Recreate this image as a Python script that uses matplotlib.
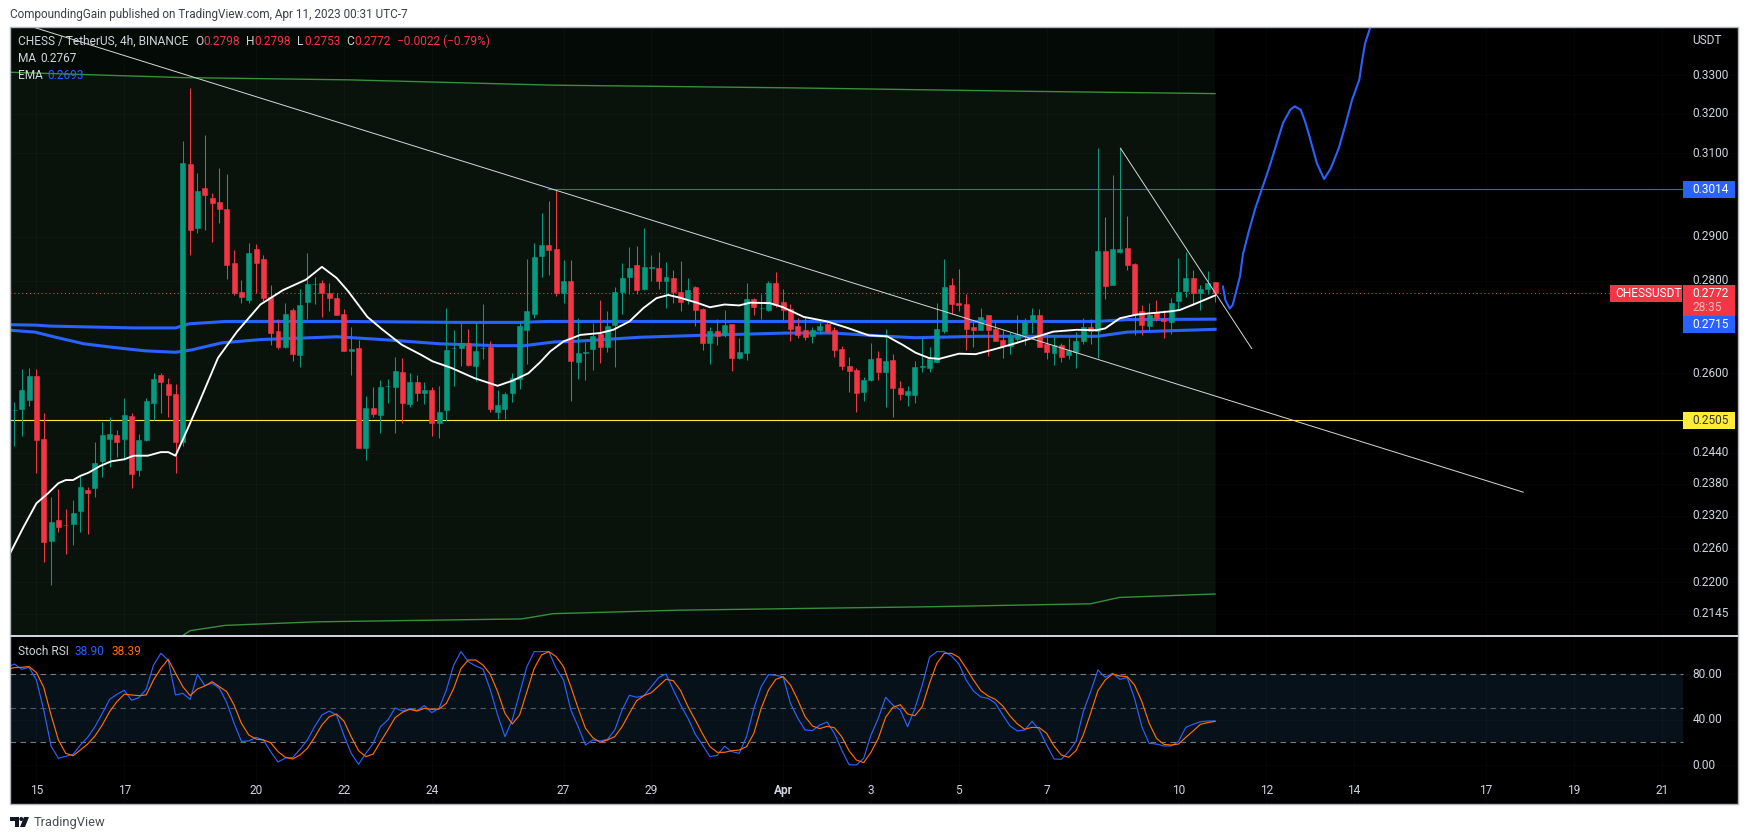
import matplotlib
matplotlib.use("Agg")
import matplotlib.pyplot as plt
from matplotlib.patches import Rectangle, Ellipse, Polygon
from matplotlib.transforms import blended_transform_factory

plt.rcParams['font.family'] = ['Roboto', 'DejaVu Sans']

# candles, 4h bars, bar 0 is the "15" tick
bar_start = -3
opens = [.2524,.2527,.2544,.2595,.2467,.2273,.2312,.2303,.2305,.2328,.2368,.2372,.2424,.2467,.2475,.2467,.2513,.2407,.2465,.2539,.2597,.2577,.2558,.2461,.3075,.2921,.3016,.2992,.2982,.2965,.2840,.2775,.2757,.2872,.2849,.2764,.2690,.2656,.2736,.2639,.2753,.2792,.2795,.2773,.2762,.2727,.2647,.2653,.2449,.2529,.2515,.2573,.2572,.2603,.2537,.2581,.2560,.2566,.2499,.2525,.2652,.2653,.2663,.2616,.2652,.2656,.2521,.2527,.2560,.2589,.2692,.2727,.2855,.2880,.2872,.2772,.2800,.2624,.2643,.2651,.2684,.2656,.2703,.2775,.2809,.2836,.2782,.2829,.2829,.2800,.2805,.2775,.2760,.2786,.2738,.2664,.2690,.2681,.2705,.2632,.2643,.2760,.2739,.2736,.2795,.2753,.2738,.2701,.2692,.2679,.2692,.2705,.2692,.2651,.2616,.2606,.2562,.2585,.2632,.2602,.2628,.2570,.2556,.2556,.2614,.2610,.2624,.2690,.2791,.2751,.2749,.2697,.2692,.2725,.2694,.2671,.2658,.2673,.2684,.2710,.2723,.2662,.2643,.2660,.2638,.2645,.2669,.2697,.2690,.2868,.2790,.2865,.2875,.2838,.2732,.2701,.2729,.2716,.2708,.2755,.2777,.2805,.2772,.2782,.2798]
highs = [.2540,.2608,.2610,.2608,.2518,.2354,.2370,.2333,.2349,.2395,.2374,.2461,.2501,.2511,.2485,.2549,.2518,.2477,.2549,.2601,.2601,.2591,.2577,.3131,.3266,.3052,.3146,.3004,.3065,.3050,.2870,.2802,.2886,.2884,.2859,.2791,.2716,.2751,.2740,.2782,.2863,.2808,.2802,.2795,.2772,.2738,.2697,.2671,.2553,.2572,.2587,.2589,.2634,.2632,.2601,.2597,.2581,.2572,.2574,.2740,.2692,.2708,.2694,.2708,.2749,.2667,.2566,.2562,.2601,.2708,.2849,.2886,.2956,.2985,.3011,.2847,.2847,.2717,.2665,.2706,.2757,.2732,.2786,.2840,.2877,.2879,.2921,.2859,.2865,.2843,.2823,.2845,.2805,.2788,.2740,.2697,.2716,.2736,.2705,.2675,.2795,.2762,.2770,.2800,.2820,.2782,.2749,.2718,.2720,.2699,.2708,.2710,.2697,.2658,.2634,.2610,.2593,.2664,.2647,.2694,.2641,.2583,.2574,.2626,.2677,.2655,.2751,.2849,.2805,.2827,.2770,.2710,.2740,.2725,.2708,.2692,.2688,.2725,.2718,.2740,.2738,.2688,.2681,.2664,.2675,.2688,.2718,.2716,.3114,.2947,.3047,.3114,.2949,.2840,.2745,.2751,.2757,.2736,.2762,.2851,.2865,.2825,.2791,.2822,.2798]
lows = [.2452,.2472,.2532,.2400,.2235,.2194,.2290,.2250,.2266,.2289,.2287,.2355,.2393,.2412,.2432,.2426,.2372,.2395,.2463,.2505,.2519,.2511,.2401,.2452,.2859,.2909,.2916,.2889,.2933,.2804,.2768,.2751,.2751,.2772,.2755,.2660,.2651,.2654,.2626,.2612,.2716,.2749,.2720,.2732,.2725,.2647,.2597,.2449,.2426,.2511,.2479,.2539,.2479,.2499,.2531,.2543,.2537,.2473,.2469,.2503,.2574,.2616,.2616,.2583,.2630,.2521,.2507,.2507,.2541,.2568,.2620,.2718,.2808,.2813,.2766,.2751,.2543,.2589,.2587,.2606,.2622,.2645,.2612,.2727,.2770,.2770,.2780,.2800,.2782,.2740,.2751,.2732,.2749,.2701,.2649,.2620,.2660,.2677,.2604,.2630,.2628,.2723,.2716,.2732,.2742,.2714,.2667,.2675,.2671,.2664,.2683,.2686,.2634,.2606,.2562,.2521,.2543,.2583,.2587,.2531,.2511,.2545,.2533,.2539,.2602,.2602,.2624,.2686,.2727,.2732,.2649,.2656,.2692,.2636,.2669,.2632,.2641,.2664,.2660,.2686,.2656,.2630,.2618,.2624,.2630,.2610,.2662,.2662,.2632,.2760,.2790,.2863,.2823,.2681,.2681,.2690,.2710,.2675,.2683,.2734,.2764,.2745,.2736,.2770,.2753]
closes = [.2525,.2566,.2595,.2465,.2272,.2309,.2299,.2302,.2324,.2374,.2362,.2420,.2475,.2477,.2461,.2515,.2399,.2465,.2543,.2589,.2581,.2556,.2461,.3077,.2916,.3009,.2999,.2980,.2965,.2836,.2773,.2764,.2863,.2840,.2762,.2685,.2656,.2727,.2641,.2745,.2793,.2793,.2773,.2762,.2725,.2647,.2651,.2449,.2529,.2517,.2572,.2574,.2605,.2539,.2581,.2560,.2566,.2499,.2521,.2649,.2654,.2663,.2618,.2647,.2654,.2527,.2535,.2558,.2591,.2701,.2732,.2853,.2880,.2870,.2772,.2800,.2626,.2643,.2645,.2679,.2656,.2701,.2775,.2807,.2829,.2780,.2831,.2831,.2800,.2809,.2775,.2753,.2780,.2736,.2664,.2690,.2679,.2703,.2632,.2645,.2760,.2742,.2740,.2795,.2745,.2736,.2694,.2681,.2677,.2692,.2701,.2688,.2649,.2616,.2604,.2560,.2587,.2630,.2602,.2626,.2570,.2558,.2564,.2612,.2615,.2630,.2694,.2786,.2749,.2747,.2694,.2692,.2720,.2692,.2669,.2658,.2679,.2684,.2708,.2723,.2656,.2645,.2660,.2634,.2649,.2669,.2699,.2690,.2868,.2788,.2872,.2872,.2836,.2725,.2703,.2723,.2718,.2712,.2751,.2775,.2805,.2772,.2782,.2795,.2772]

# MA (white)
ma_x = [-3.6,-1.8,0,1.6,3,4,5,6,7.1,8.7,10.2,12,13.3,15.2,17,18,19,20.6,22.2,24.8,27.4,30.6,33.7,36.8,39,41,42.6,45.2,47.3,49.9,52.5,54.1,56.7,59.8,63,65.1,67.2,68.8,70.2,72,74.3,77,78.8,81,82.9,84.7,86.3,87.9,90.2,92,94,96,97.5,100.2,102,104.8,108,110.8,113.7,116.2,118.3,120.1,121.9,123.3,126,128.3,131,133.5,136.2,138.9,142.1,144.8,146,148,150.3,153,154.9,156.2,158.5,161]
ma_y = [.2251,.2298,.2343,.2362,.2381,.2387,.2387,.2395,.2401,.2414,.2423,.2427,.2434,.2434,.2441,.2441,.2434,.2485,.2539,.2632,.2688,.2747,.2779,.2802,.2831,.2806,.2776,.2720,.2692,.2660,.2639,.2625,.2611,.2590,.2574,.2585,.2600,.2623,.2646,.2667,.2681,.2685,.2692,.2710,.2739,.2761,.2768,.2762,.2751,.2741,.2747,.2745,.2751,.2750,.2741,.2720,.2710,.2696,.2680,.2678,.2660,.2643,.2632,.2630,.2641,.2640,.2651,.2662,.2675,.2688,.2692,.2691,.2695,.2717,.2725,.2729,.2732,.2735,.2750,.2767]

# the two blue EMAs
ema1_x = [-3.6,0,1.8,7.6,13.3,19,20.9,25.9,42,57.7,66,69.8,90,125,144.9,149,161]
ema1_y = [.2703,.2702,.2700,.2698,.2696,.2696,.2705,.2710,.2710,.2708,.2708,.2710,.2710,.2710,.2710,.2714,.2715]
ema2_x = [-3.6,-0.2,2.9,6.5,10.7,14.9,19,21.2,25.3,30.6,41,47.3,55.1,63,66.6,70.8,73.3,82.5,90.6,102.5,108.8,116.2,120,128.9,144.9,149,161]
ema2_y = [.2691,.2687,.2675,.2662,.2654,.2647,.2644,.2649,.2664,.2671,.2677,.2671,.2662,.2658,.2658,.2666,.2667,.2676,.2680,.2685,.2685,.2678,.2675,.2678,.2678,.2687,.2693]

# green channel
upper_x = [-3.6,19.9,42.6,70.6,102.9,135.5,161]
upper_y = [.3308,.3294,.3288,.3274,.3267,.3258,.3252]
lower_x = [19.9,21,25.8,38.2,66.3,70.6,87.9,122.5,144,147.9,161]
lower_y = [.2107,.2116,.2125,.2131,.2136,.2145,.2151,.2157,.2162,.2173,.2179]

# hand drawn projection
proj_x = [162.07,162.4,163,163.4,164.4,164.8,165.6,166.5,167.4,168.3,169.4,170.3,171.3,171.9,172.7,173.3,173.9,174.9,175.9,176.8,177.9,178.8,179.7,180.7,181.1,181.5,182.2]
proj_y = [.2787,.2757,.2738,.2746,.2809,.2859,.2912,.2967,.3013,.3060,.3124,.3177,.3211,.3219,.3210,.3180,.3142,.3076,.3037,.3063,.3113,.3171,.3235,.3288,.3341,.3386,.3429]

# trend lines
long_x = [-0.33,203.1]
long_y = [.3429,.2364]
short_x = [148.08,166]
short_y = [.3113,.2652]

# stoch rsi, first value is bar -4
stoch_k = [86.2,89.1,84.4,86.2,75.0,48.5,16.8,5.9,7.6,9.4,17.6,24.4,33.8,45.6,57.9,62.4,65.9,57.1,59.4,66.8,88.2,98.5,92.6,61.8,63.2,57.9,80.0,70.0,72.1,67.6,55.0,36.8,20.9,21.2,24.4,22.1,11.8,2.6,6.2,6.5,13.8,22.1,33.8,44.1,47.6,44.1,26.2,10.3,0.6,10.3,19.1,33.8,39.7,50.3,47.6,49.7,48.2,52.4,46.2,50.0,66.2,88.2,100,91.2,87.4,84.7,66.2,44.1,25.0,39.7,63.2,86.8,100,100,100,85.3,75.0,48.5,33.8,17.6,22.1,21.2,22.6,30.9,48.5,61.5,59.7,61.2,69.1,77.1,80.3,66.2,52.9,41.2,27.1,17.6,7.4,8.5,16.5,11.8,10.3,25.0,50.0,69.1,79.7,79.1,77.9,54.4,41.2,30.9,30.3,35.3,37.9,27.9,13.2,0.3,0.0,5.9,26.5,41.2,59.7,52.9,48.5,33.8,50.0,70.6,95.0,100,100,96.2,89.1,75.0,65.3,60.0,58.8,54.4,44.1,34.4,30.0,30.9,38.5,30.9,17.6,5.3,5.0,11.8,20.6,47.1,64.7,83.8,77.4,80.9,75.6,77.1,58.8,33.8,19.1,18.5,16.8,16.8,20.6,33.2,35.9,38.2,38.8,38.9]
stoch_d = [84.4,85.9,86.2,86.8,81.5,68.5,44.1,22.1,10.3,8.2,13.2,18.5,25.6,35.3,47.1,55.9,62.4,61.8,61.2,61.8,75.0,85.3,93.2,80.9,69.1,61.2,67.1,69.7,73.5,69.1,64.7,52.9,36.8,26.5,22.9,22.1,19.7,11.8,6.8,5.3,8.8,14.7,24.4,35.3,42.6,45.0,38.8,25.0,12.6,7.4,9.7,20.6,30.9,41.8,46.5,49.1,47.6,50.0,49.1,49.4,54.4,67.6,85.3,92.6,92.6,88.2,80.0,64.7,45.6,36.2,44.1,64.7,85.3,97.1,100,95.6,86.8,69.1,50.0,32.4,24.1,20.0,22.1,25.0,33.8,45.6,56.8,61.2,63.8,69.7,75.6,74.4,65.6,51.5,39.7,27.4,16.2,11.2,11.2,12.6,13.2,16.2,27.9,50.0,66.2,75.6,77.9,70.6,57.4,42.6,34.4,32.1,34.1,32.9,25.0,12.6,4.4,2.1,11.2,23.5,42.1,50.9,53.2,45.0,43.5,51.5,72.1,89.7,98.5,98.5,95.0,85.3,75.0,65.6,60.9,57.9,52.1,43.2,36.2,31.5,33.2,32.9,27.9,16.8,8.8,6.8,12.6,26.5,45.6,65.6,75.0,80.3,78.5,77.9,70.6,55.9,36.8,23.5,18.2,17.6,18.5,24.4,30.0,35.9,37.4,38.5]

price_ticks = [.33,.32,.31,.29,.28,.26,.244,.238,.232,.226,.22,.2145]
price_labels = ["0.3300","0.3200","0.3100","0.2900","0.2800","0.2600","0.2440","0.2380","0.2320","0.2260","0.2200","0.2145"]
stoch_ticks = [80,40,0]
stoch_labels = ["80.00","40.00","0.00"]
day_pos = [0,12,30,42,54,72,84,102,114,126,138,156,168,180,198,210,222]
day_labels = ["15","17","20","22","24","27","29","Apr","3","5","7","10","12","14","17","19","21"]

UP, DOWN = "#089981", "#f23645"
BLUE, ORANGE = "#2962ff", "#ff6d00"
AXIS = "#d1d4dc"
W, H = 1749, 840
FS = 8.6


def fx(x):
    return x / W


def fy(y):
    return 1 - y / H


fig = plt.figure(figsize=(W / 100, H / 100), dpi=100, facecolor="white")
ax = fig.add_axes([fx(10.5), fy(636), 1728 / W, 609 / H])
ax2 = fig.add_axes([fx(10.5), fy(804), 1728 / W, 168 / H])

x_left, x_right = -3.54, 232.5
x_box = 161.0
x_scale = 224.9
x_name = 215

# ---- price pane
ax.set_facecolor("black")
ax.set_yscale("log")
ax.set_xlim(x_left, x_right)
ax.set_ylim(.2107, .3430)
ax.axvspan(x_left, x_box, color="#040b06", lw=0, zorder=0)
low_fill_x = [x_left] + lower_x
low_fill_y = [.2107] + lower_y
ax.fill_between(upper_x, upper_y, .2107, color="#09130c", lw=0, zorder=0.5)
ax.fill_between(low_fill_x, low_fill_y, .2107, color="#050c07", lw=0, zorder=0.6)

for p in price_ticks:
    ax.axhline(p, color="white", alpha=0.025, lw=1, zorder=0.8)
for d in day_pos:
    ax.axvline(d, color="white", alpha=0.025, lw=1, zorder=0.8)

ax.plot(upper_x, upper_y, color="#388e3c", lw=1.0, zorder=1)
ax.plot(lower_x, lower_y, color="#388e3c", lw=1.0, zorder=1)
ax.plot([69.9, x_scale], [.3014, .3014], color=BLUE, lw=0.8, zorder=1)
ax.plot([x_left, x_scale], [.2505, .2505], color="#ffeb3b", lw=0.8, zorder=1)
ax.plot([x_left, x_name], [.2772, .2772], color=DOWN, lw=0.8, ls=(0, (1, 2.5)), zorder=1)
ax.plot(ema1_x, ema1_y, color=BLUE, lw=2.2, zorder=2)
ax.plot(ema2_x, ema2_y, color=BLUE, lw=2.2, zorder=2)

bars = range(bar_start, bar_start + len(opens))
for i, o, h, l, c in zip(bars, opens, highs, lows, closes):
    col = UP if c >= o else DOWN
    ax.vlines(i, l, h, color=col, lw=0.75, zorder=3)
    ax.bar(i, abs(c - o), bottom=min(o, c), width=0.68, color=col, edgecolor=col, lw=0.4, zorder=3.1)

ax.plot(ma_x, ma_y, color="white", lw=1.35, zorder=4)
ax.plot(long_x, long_y, color="#d8d8d8", lw=0.7, zorder=4)
ax.plot(short_x, short_y, color="#d8d8d8", lw=0.7, zorder=4)
ax.plot(proj_x, proj_y, color=BLUE, lw=1.5, zorder=4)
ax.set_xticks([])
ax.set_yticks([])
ax.minorticks_off()

# ---- stoch pane
ax2.set_facecolor("black")
ax2.set_xlim(x_left, x_right)
ax2.set_ylim(-34.4, 113.8)
for p in stoch_ticks:
    ax2.axhline(p, color="white", alpha=0.025, lw=1, zorder=0.8)
for d in day_pos:
    ax2.axvline(d, color="white", alpha=0.025, lw=1, zorder=0.8)
ax2.fill_between([x_left, x_scale], 20, 80, color="#06111a", lw=0, zorder=0.5)
ax2.plot([x_left, x_scale], [80, 80], color="#787b86", lw=0.8, ls=(0, (5, 4)), zorder=1)
ax2.plot([x_left, x_scale], [50, 50], color="#55585f", lw=0.8, ls=(0, (5, 4)), zorder=1)
ax2.plot([x_left, x_scale], [20, 20], color="#787b86", lw=0.8, ls=(0, (5, 4)), zorder=1)
sx = list(range(-4, -4 + len(stoch_k)))
ax2.plot(sx, stoch_k, color=BLUE, lw=0.85, zorder=2)
ax2.plot(sx, stoch_d, color=ORANGE, lw=0.85, zorder=3)
ax2.set_xticks([])
ax2.set_yticks([])

for a in (ax, ax2):
    for s in a.spines.values():
        s.set_visible(False)

# axis labels
scale_tr = blended_transform_factory(fig.transFigure, ax.transData)
for p, t in zip(price_ticks, price_labels):
    ax.text(fx(1692.7), p, t, transform=scale_tr, color=AXIS, fontsize=FS, va="center", zorder=6)
scale_tr2 = blended_transform_factory(fig.transFigure, ax2.transData)
for p, t in zip(stoch_ticks, stoch_labels):
    ax2.text(fx(1692.7), p, t, transform=scale_tr2, color=AXIS, fontsize=FS, va="center", zorder=6)
time_tr = blended_transform_factory(ax2.transData, fig.transFigure)
for d, t in zip(day_pos, day_labels):
    ax2.text(d, fy(790.7), t, transform=time_tr, color=AXIS, fontsize=FS, ha="center", va="center",
             fontweight="bold" if t == "Apr" else "normal", zorder=6)


def label_box(x0, x1, y0, y1, col):
    fig.add_artist(Rectangle((fx(x0), fy(y1)), (x1 - x0) / W, (y1 - y0) / H, transform=fig.transFigure,
                             facecolor=col, edgecolor="none", zorder=5))


def ftext(x, y, s, col, size=FS, **kw):
    kw.setdefault("va", "center")
    fig.text(fx(x), fy(y), s, color=col, fontsize=size, zorder=7, **kw)


label_box(1683, 1735, 181, 198, BLUE)
ftext(1692.7, 189.5, "0.3014", "white")
label_box(1610, 1682, 285.3, 301.7, DOWN)
ftext(1615, 293.5, "CHESSUSDT", "white")
label_box(1683, 1735, 285.3, 316, DOWN)
ftext(1692.7, 293.5, "0.2772", "white")
ftext(1692.7, 307.7, "28:35", "#fbb6bc")
label_box(1683, 1735, 316, 333, BLUE)
ftext(1692.7, 324.5, "0.2715", "white")
label_box(1683, 1735, 412, 429, "#ffeb3b")
ftext(1692.7, 420.5, "0.2505", "#333333")
ftext(1692.7, 40.7, "USDT", AXIS)

# legend rows
ftext(18, 41.7, "CHESS / TetherUS, 4h, BINANCE", AXIS)
for x, s in zip([195, 245.7, 296.6, 346], ["O", "H", "L", "C"]):
    ftext(x, 41.7, s, AXIS)
for x, s in zip([203, 254, 304, 354], ["0.2798", "0.2798", "0.2753", "0.2772"]):
    ftext(x, 41.7, s, DOWN)
ftext(397, 41.7, "\u22120.0022 (\u22120.79%)", DOWN)
ftext(18, 58.7, "MA", AXIS)
ftext(40.6, 58.7, "0.2767", AXIS)
ftext(18, 75.7, "EMA", AXIS)
ftext(47.5, 75.7, "0.2693", BLUE)
ftext(17.8, 651.7, "Stoch RSI", AXIS)
ftext(75, 651.7, "38.90", BLUE)
ftext(111.5, 651.7, "38.39", ORANGE)

# header and footer
ftext(9.6, 14.7, "CompoundingGain published on TradingView.com, Apr 11, 2023 00:31 UTC-7", "#3c3f48", size=8.5)
ftext(33.6, 822.7, "TradingView", "#4a4d55", size=9.3)

# frame
frame_col = "#b2b5be"
fig.add_artist(Rectangle((fx(10.5), fy(804)), 1728 / W, 777 / H, transform=fig.transFigure,
                         fill=False, edgecolor=frame_col, lw=1, zorder=8))
fig.add_artist(Rectangle((fx(10.5), fy(636.6)), 1728 / W, 1.4 / H, transform=fig.transFigure,
                         facecolor="#d1d4dc", edgecolor="none", zorder=8))

# TradingView logo
logo = "#131722"
fig.add_artist(Polygon([(fx(10), fy(817)), (fx(19), fy(817)), (fx(19), fy(827)), (fx(15), fy(827)),
                        (fx(15), fy(821)), (fx(10), fy(821))], closed=True, transform=fig.transFigure,
                       facecolor=logo, edgecolor="none"))
fig.add_artist(Polygon([(fx(24), fy(817)), (fx(29), fy(817)), (fx(25), fy(827)), (fx(20), fy(827))],
                       closed=True, transform=fig.transFigure, facecolor=logo, edgecolor="none"))
fig.add_artist(Ellipse((fx(21.3), fy(819)), 4 / W, 4 / H, transform=fig.transFigure,
                       facecolor=logo, edgecolor="none"))

fig.savefig("out.png", dpi=100, facecolor="white")
